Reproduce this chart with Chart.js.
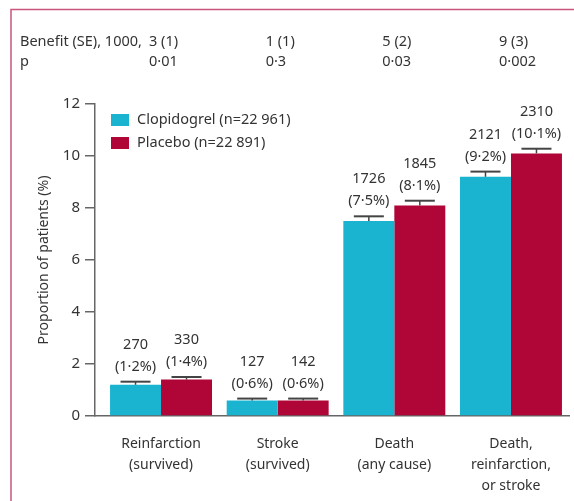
<!DOCTYPE html>
<html>
<head>
<meta charset="utf-8">
<script src="https://cdn.jsdelivr.net/npm/chart.js@4"></script>
<style>
  html, body { margin: 0; padding: 0; background: #ffffff; }
  canvas { display: block; }
</style>
</head>
<body>
<canvas id="chart" width="574" height="501"></canvas>
<script>
// Outcome groups on the x axis
const categories = [
  ['Reinfarction', '(survived)'],
  ['Stroke', '(survived)'],
  ['Death', '(any cause)'],
  ['Death,', 'reinfarction,', 'or stroke']
];

// Proportion of patients with each outcome (%)
const clopidogrelPct = [1.2, 0.6, 7.5, 9.2];
const placeboPct = [1.4, 0.6, 8.1, 10.1];

// Number of events
const clopidogrelEvents = [270, 127, 1726, 2121];
const placeboEvents = [330, 142, 1845, 2310];

// Standard error shown as whiskers (%)
const clopidogrelErr = [0.12, 0.07, 0.18, 0.2];
const placeboErr = [0.1, 0.07, 0.18, 0.18];

// Benefit per 1000 and p value for each outcome
const benefitLabels = ['3 (1)', '1 (1)', '5 (2)', '9 (3)'];
const pLabels = ['0·01', '0·3', '0·03', '0·002'];

const seriesNames = ['Clopidogrel (n=22 961)', 'Placebo (n=22 891)'];
const seriesColors = ['#1ab3d0', '#b00537'];

const yTicks = [0, 2, 4, 6, 8, 10, 12];

const FONT = '"Noto Sans", "DejaVu Sans", sans-serif';
const TEXT = '#333333';
const AXIS = '#666666';

const toPoints = vals => vals.map((v, i) => ({ x: i, y: v }));
const fmtPct = v => '(' + v.toFixed(1).replace('.', '·') + '%)';

const errors = [clopidogrelErr, placeboErr];
const events = [clopidogrelEvents, placeboEvents];
const pcts = [clopidogrelPct, placeboPct];

// Whiskers plus the count / percentage labels above each bar
const barAnnotations = {
  id: 'barAnnotations',
  afterDatasetsDraw(chart) {
    const ctx = chart.ctx;
    const y = chart.scales.y;
    ctx.save();
    chart.data.datasets.forEach((ds, di) => {
      const meta = chart.getDatasetMeta(di);
      meta.data.forEach((bar, i) => {
        const top = y.getPixelForValue(pcts[di][i] + errors[di][i]);
        ctx.strokeStyle = '#444444';
        ctx.lineWidth = 1.5;
        ctx.beginPath();
        ctx.moveTo(bar.x, bar.y);
        ctx.lineTo(bar.x, top);
        ctx.stroke();
        ctx.lineWidth = 2;
        ctx.beginPath();
        ctx.moveTo(bar.x - 15, top);
        ctx.lineTo(bar.x + 15, top);
        ctx.stroke();

        ctx.fillStyle = TEXT;
        ctx.font = '14.5px ' + FONT;
        ctx.textAlign = 'center';
        ctx.textBaseline = 'middle';
        ctx.fillText(String(events[di][i]), bar.x, top - 37);
        ctx.fillText(fmtPct(pcts[di][i]), bar.x, top - 15);
      });
    });
    ctx.restore();
  }
};

// Benefit / p rows above the plot, legend, and the page frame
const extras = {
  id: 'extras',
  afterDraw(chart) {
    const ctx = chart.ctx;
    const x = chart.scales.x;
    const area = chart.chartArea;
    ctx.save();

    // frame
    ctx.strokeStyle = '#c9557b';
    ctx.lineWidth = 1.5;
    ctx.beginPath();
    ctx.moveTo(11, chart.height);
    ctx.lineTo(11, 9.5);
    ctx.lineTo(chart.width, 9.5);
    ctx.stroke();

    // benefit and p rows
    ctx.fillStyle = TEXT;
    ctx.font = '14.5px ' + FONT;
    ctx.textBaseline = 'middle';
    ctx.textAlign = 'left';
    ctx.fillText('Benefit (SE), 1000,', 20, 42);
    ctx.fillText('p', 20, 62);
    categories.forEach((c, i) => {
      const px = x.getPixelForValue(i) - 12;
      ctx.fillText(benefitLabels[i], px, 42);
      ctx.fillText(pLabels[i], px, 62);
    });

    // legend
    chart.data.datasets.forEach((ds, di) => {
      const cy = area.top + 16 + di * 23;
      ctx.fillStyle = ds.backgroundColor;
      ctx.fillRect(area.left + 16, cy - 6, 18, 12);
      ctx.fillStyle = TEXT;
      ctx.fillText(ds.label, area.left + 42, cy);
    });
    ctx.restore();
  }
};

new Chart(document.getElementById('chart'), {
  type: 'bar',
  data: {
    datasets: [
      { label: seriesNames[0], data: toPoints(clopidogrelPct), backgroundColor: seriesColors[0], borderWidth: 0 },
      { label: seriesNames[1], data: toPoints(placeboPct), backgroundColor: seriesColors[1], borderWidth: 0 }
    ]
  },
  options: {
    responsive: false,
    animation: false,
    devicePixelRatio: 1,
    barPercentage: 1,
    categoryPercentage: 0.874,
    layout: { padding: { top: 104, left: 0, right: 4.7, bottom: 0 } },
    plugins: {
      legend: { display: false },
      tooltip: { enabled: false }
    },
    scales: {
      x: {
        type: 'linear',
        min: -0.566,
        max: 3.5,
        offset: false,
        grid: { display: false, offset: false },
        border: { color: AXIS, width: 1.5 },
        afterBuildTicks: axis => { axis.ticks = categories.map((c, i) => ({ value: i })); },
        afterFit: axis => { axis.height = 85; },
        ticks: {
          callback: v => categories[v],
          autoSkip: false,
          maxRotation: 0,
          padding: 9.5,
          color: TEXT,
          font: { family: FONT, size: 14, lineHeight: 1.5 }
        }
      },
      y: {
        min: 0,
        max: 12,
        afterBuildTicks: axis => { axis.ticks = yTicks.map(v => ({ value: v })); },
        afterFit: axis => { axis.width = 95; },
        grid: { drawOnChartArea: false, tickLength: 10, color: AXIS, lineWidth: 1.5 },
        border: { color: AXIS, width: 1.5 },
        ticks: {
          padding: 5,
          color: TEXT,
          font: { family: FONT, size: 15 }
        },
        title: {
          display: true,
          text: 'Proportion of patients (%)',
          color: TEXT,
          font: { family: FONT, size: 14 },
          padding: { top: 35.6, bottom: 0 }
        }
      }
    }
  },
  plugins: [barAnnotations, extras]
});
</script>
</body>
</html>
